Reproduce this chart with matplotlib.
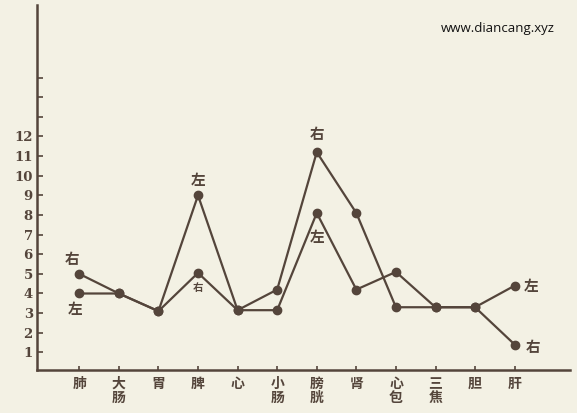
import numpy as np
import matplotlib.pyplot as plt

plt.rcParams['font.family'] = ['Noto Sans CJK SC', 'DejaVu Sans']

# 经络名称与左右两侧测定值
organs = ['肺', '大\n肠', '胃', '脾', '心', '小\n肠', '膀\n胱', '肾', '心\n包', '三\n焦', '胆', '肝']
left_vals = [4.0, 4.0, 3.1, 9.0, 3.15, 3.15, 8.1, 4.2, 5.1, 3.3, 3.3, 4.4]
right_vals = [5.0, 4.0, 3.1, 5.05, 3.15, 4.2, 11.2, 8.1, 3.3, 3.3, 3.3, 1.4]
y_ticks = list(range(1, 16))
y_labels = [str(i) if i <= 12 else '' for i in y_ticks]

ink = '#54453b'
paper = '#f3f1e4'

fig = plt.figure(figsize=(5.77, 4.13), dpi=100, facecolor=paper)
ax = fig.add_axes([0.064, 0.104, 0.924, 0.884], facecolor=paper)

x = np.arange(len(organs))
ax.plot(x, left_vals, color=ink, lw=1.6, marker='o', ms=6, zorder=3)
ax.plot(x, right_vals, color=ink, lw=1.6, marker='o', ms=6, zorder=3)

ax.set_xlim(-1.07, 12.4)
ax.set_ylim(0.1, 18.7)

ax.set_yticks(y_ticks)
ax.set_yticklabels(y_labels, fontsize=9.5, fontweight='bold', color=ink, family='DejaVu Serif')
ax.set_xticks(x)
ax.set_xticklabels(organs, fontsize=10, fontweight='bold', color=ink, linespacing=1.0, va='top')
ax.tick_params(axis='y', direction='in', length=4, width=1.2, color=ink, pad=3)
ax.tick_params(axis='x', direction='in', length=3, width=1.2, color=ink, pad=5)

for s in ['top', 'right']:
    ax.spines[s].set_visible(False)
for s in ['left', 'bottom']:
    ax.spines[s].set_color(ink)
    ax.spines[s].set_linewidth(1.8)

# 左右标注
def tag(i, val, text, dx, dy, size=10.5):
    ax.annotate(text, (i, val), xytext=(dx, dy), textcoords='offset points',
                ha='center', va='center', fontsize=size, fontweight='bold', color=ink)

tag(0, right_vals[0], '右', -5, 11)
tag(0, left_vals[0], '左', -3, -11)
tag(3, left_vals[3], '左', 0, 11)
tag(3, right_vals[3], '右', 0, -11, size=7.5)
tag(6, right_vals[6], '右', 0, 13)
tag(6, left_vals[6], '左', 0, -17)
tag(11, left_vals[11], '左', 12, 0)
tag(11, right_vals[11], '右', 13, -2)

fig.text(0.962, 0.932, 'www.diancang.xyz', ha='right', va='center', fontsize=9.5,
         color='#111111', family='Open Sans')

fig.savefig('out.png', dpi=100, facecolor=paper)
